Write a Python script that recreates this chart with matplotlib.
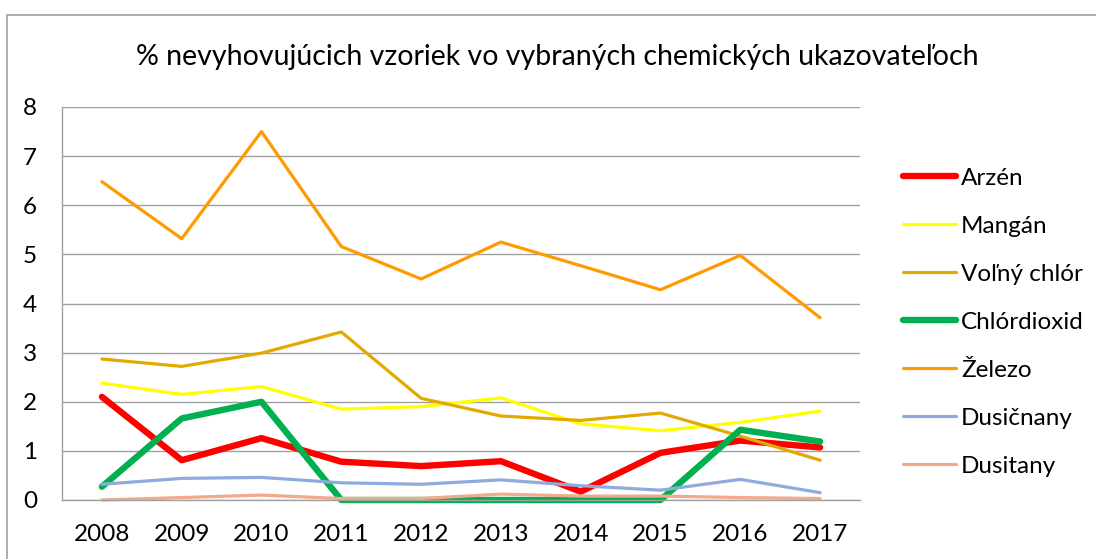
import matplotlib.pyplot as plt
from matplotlib.patches import Rectangle

plt.rcParams["font.family"] = ["Lato", "DejaVu Sans"]

years = ["2008", "2009", "2010", "2011", "2012", "2013", "2014", "2015", "2016", "2017"]

arzen = [2.10, 0.81, 1.26, 0.78, 0.69, 0.79, 0.17, 0.96, 1.21, 1.07]
mangan = [2.38, 2.15, 2.31, 1.85, 1.90, 2.08, 1.55, 1.41, 1.58, 1.81]
volny_chlor = [2.87, 2.72, 2.99, 3.42, 2.07, 1.71, 1.62, 1.77, 1.30, 0.81]
chlordioxid = [0.27, 1.66, 2.00, 0.0, 0.0, 0.0, 0.0, 0.0, 1.43, 1.19]
zelezo = [6.48, 5.32, 7.50, 5.16, 4.50, 5.25, 4.77, 4.28, 4.98, 3.71]
dusicnany = [0.32, 0.44, 0.46, 0.35, 0.32, 0.41, 0.29, 0.20, 0.42, 0.15]
dusitany = [0.0, 0.05, 0.10, 0.03, 0.03, 0.12, 0.08, 0.08, 0.05, 0.03]

series = [
    ("Arzén", arzen, "#FF0000", 4.6),
    ("Mangán", mangan, "#FFFF00", 2.3),
    ("Voľný chlór", volny_chlor, "#E2AA00", 2.3),
    ("Chlórdioxid", chlordioxid, "#00B050", 4.6),
    ("Železo", zelezo, "#FF9A00", 2.3),
    ("Dusičnany", dusicnany, "#8FAADC", 2.3),
    ("Dusitany", dusitany, "#F2AA8C", 2.3),
]

W, H = 1096, 559
fig = plt.figure(figsize=(W / 100, H / 100), dpi=100)

# outer chart frame (cut off at right and bottom like in the screenshot)
fig.patches.append(Rectangle((7 / W, -0.1), 1.2, (H - 15) / H + 0.1,
                             transform=fig.transFigure, fill=False,
                             edgecolor="#A0A0A0", linewidth=1.2))

ax = fig.add_axes([62 / W, (H - 500) / H, (860 - 62) / W, (500 - 107) / H])

x = list(range(len(years)))
for name, values, color, lw in series:
    ax.plot(x, values, color=color, linewidth=lw, label=name,
            solid_capstyle="round", solid_joinstyle="round", clip_on=False)

ax.set_xlim(-0.5, len(years) - 0.5)
ax.set_ylim(0, 8)
ax.set_yticks(range(0, 9))
ax.set_xticks(x)
ax.set_xticklabels(years)
ax.yaxis.grid(True, color="#A0A0A0", linewidth=1.0)
ax.set_axisbelow(True)
for side in ("top", "right"):
    ax.spines[side].set_visible(False)
for side in ("left", "bottom"):
    ax.spines[side].set_color("#A0A0A0")
    ax.spines[side].set_linewidth(1.0)
ax.tick_params(axis="both", length=0, labelsize=17.5)
ax.tick_params(axis="y", pad=18)
ax.tick_params(axis="x", pad=17)

fig.text(557 / W, 1 - 57 / H, "% nevyhovujúcich vzoriek vo vybraných chemických ukazovateľoch",
         ha="center", va="center", fontsize=20.5)

fig.legend(loc="upper left", bbox_to_anchor=(893 / W, 1 - 158 / H),
           frameon=False, fontsize=17.5, handlelength=2.2, handletextpad=0.2,
           labelspacing=1.11, borderaxespad=0)

fig.savefig("out.png", dpi=100)
